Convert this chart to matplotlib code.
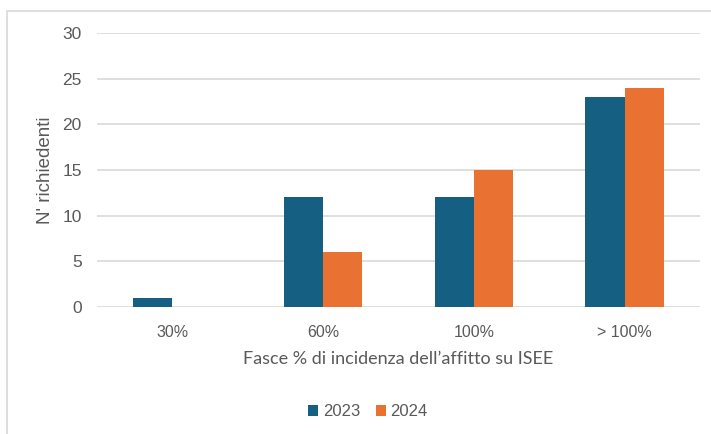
import matplotlib.pyplot as plt
import numpy as np
from matplotlib.patches import Rectangle

# data
fasce = ["30%", "60%", "100%", "> 100%"]
anni = ["2023", "2024"]
val_2023 = [1, 12, 12, 23]
val_2024 = [0, 6, 15, 24]

blu = "#156082"
arancio = "#E97132"
grigio = "#595959"

fig = plt.figure(figsize=(7.11, 4.34), dpi=100)
ax = fig.add_axes([97/711, 1 - 307/434, 603/711, 274/434])

x = np.arange(len(fasce))
w = 0.26
ax.bar(x - w/2, val_2023, w, color=blu, label=anni[0], zorder=3)
ax.bar(x + w/2, val_2024, w, color=arancio, label=anni[1], zorder=3)

ax.set_xlim(-0.5, len(fasce) - 0.5)
ax.set_ylim(0, 30)
ax.set_yticks(range(0, 31, 5))
ax.set_xticks(x)
ax.set_xticklabels(fasce)
ax.grid(axis="y", color="#D9D9D9", linewidth=1.2, zorder=0)
for s in ax.spines.values():
    s.set_visible(False)
ax.tick_params(length=0, labelcolor=grigio)
ax.tick_params(axis="x", labelsize=11.5, pad=13)
ax.tick_params(axis="y", labelsize=12.5, pad=11)
for lab in ax.get_xticklabels() + ax.get_yticklabels():
    lab.set_family("Liberation Sans")

ax.set_ylabel("N' richiedenti", fontsize=13.5, color=grigio, family="Liberation Sans", labelpad=6)
ax.set_xlabel("Fasce % di incidenza dell\u2019affitto su ISEE", fontsize=13, color=grigio,
              family="Lato", labelpad=8)

fig.legend(loc="center", bbox_to_anchor=(368/711, 1 - 412/434), ncol=2, frameon=False,
           prop={"family": "Liberation Sans", "size": 12}, labelcolor=grigio,
           handlelength=0.6, handleheight=0.6, handletextpad=0.3, columnspacing=0.9)

# cornice grigia esterna
fig.patches.append(Rectangle((7/711, -0.1), 1.0, 1 - 11/434 + 0.1, transform=fig.transFigure,
                             fill=False, edgecolor="#D9D9D9", linewidth=1.2))

fig.savefig("out.png", dpi=100)
